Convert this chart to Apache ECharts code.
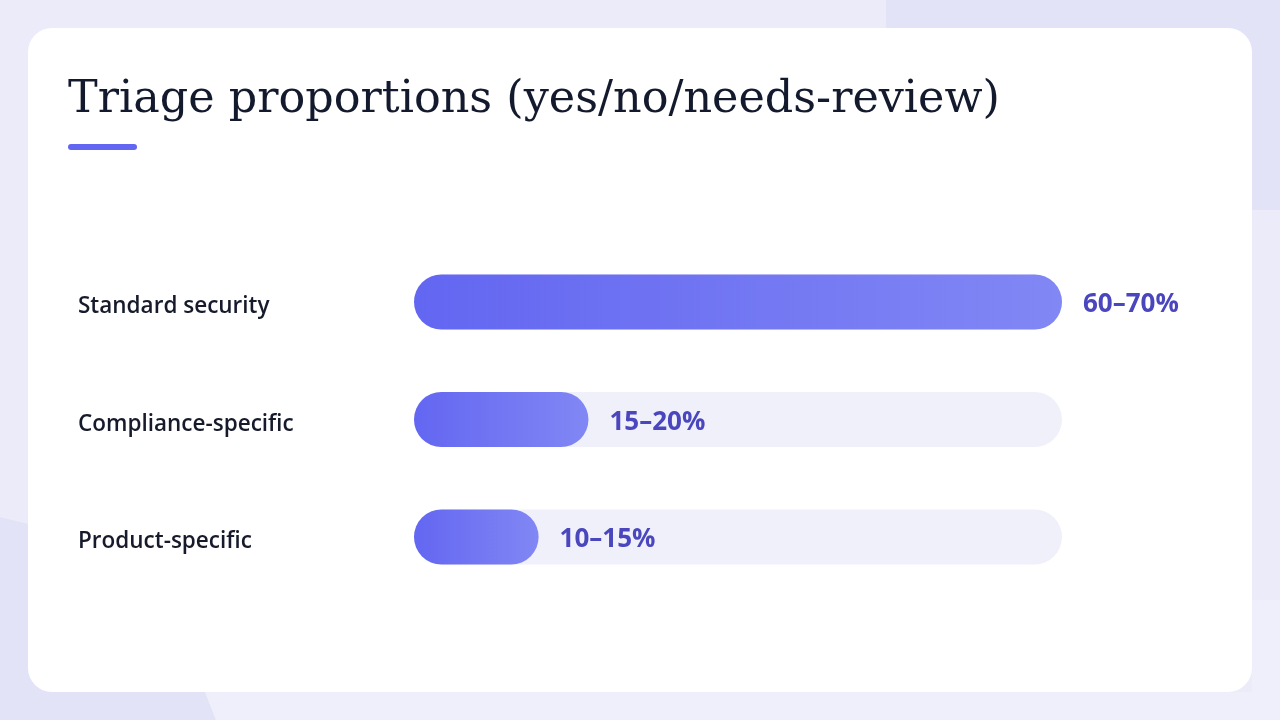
<!DOCTYPE html>
<html>
<head>
<meta charset="utf-8">
<script src="https://cdn.jsdelivr.net/npm/echarts@6/dist/echarts.min.js"></script>
<style>
html,body{margin:0;padding:0;background:#ebebfa;}
#chart{width:1280px;height:720px;}
</style>
</head>
<body>
<div id="chart"></div>
<script>
const titleText = 'Triage proportions (yes/no/needs-review)';
const categories = ['Standard security', 'Compliance-specific', 'Product-specific'];
const rangeLabels = ['60–70%', '15–20%', '10–15%'];
const values = [65, 17.5, 12.5];
const axisMax = 65;

const chart = echarts.init(document.getElementById('chart'), null, {renderer: 'canvas'});

const option = {
  animation: false,
  backgroundColor: '#ebebfa',
  graphic: [
    { type: 'polygon', z: -10, silent: true,
      shape: { points: [[886,0],[1280,0],[1280,210],[900,210],[886,30]] },
      style: { fill: '#e3e3f7' } },
    { type: 'polygon', z: -10, silent: true,
      shape: { points: [[0,517],[28,524],[120,560],[205,692],[216,720],[0,720]] },
      style: { fill: '#e3e3f7' } },
    { type: 'polygon', z: -10, silent: true,
      shape: { points: [[1252,600],[1280,600],[1280,720],[216,720],[205,692],[1252,692]] },
      style: { fill: '#efeffb' } },
    { type: 'rect', z: -5, silent: true,
      shape: { x: 28, y: 28, width: 1224, height: 664, r: 24 },
      style: { fill: '#ffffff' } },
    { type: 'text', z: 10, left: 68, top: 78,
      style: { text: titleText, fill: '#141a2e',
        font: '400 44.5px "DejaVu Serif", "Liberation Serif", serif' } },
    { type: 'rect', z: 10,
      shape: { x: 68, y: 144, width: 69, height: 6, r: 3 },
      style: { fill: '#6366f1' } }
  ],
  grid: { left: 414, right: 218, top: 243.25, bottom: 124.25, containLabel: false },
  xAxis: {
    type: 'value', min: 0, max: axisMax,
    show: false
  },
  yAxis: {
    type: 'category', data: categories, inverse: true,
    axisLine: { show: false }, axisTick: { show: false }, splitLine: { show: false },
    axisLabel: {
      align: 'left', margin: 336,
      formatter: v => '{c|' + v + '}',
      rich: {
        c: {
          color: '#161a2b', fontSize: 22.5, fontWeight: 600,
          padding: [10, 0, 0, 0],
          fontFamily: '"Open Sans", "Noto Sans", sans-serif'
        }
      }
    }
  },
  series: [{
    type: 'bar',
    data: values,
    barWidth: 55,
    showBackground: true,
    backgroundStyle: { color: '#f0f0fb', borderRadius: 27.5 },
    itemStyle: {
      borderRadius: 27.5,
      color: new echarts.graphic.LinearGradient(0, 0, 1, 0, [
        { offset: 0, color: '#6366f1' },
        { offset: 1, color: '#8187f4' }
      ])
    },
    label: {
      show: true, position: 'right', distance: 21,
      formatter: p => '{v|' + rangeLabels[p.dataIndex] + '}',
      rich: {
        v: {
          color: '#4a46bd', fontSize: 26, fontWeight: 700,
          padding: [6, 0, 0, 0],
          fontFamily: '"Open Sans", "Noto Sans", sans-serif'
        }
      }
    }
  }]
};
chart.setOption(option);
</script>
</body>
</html>
